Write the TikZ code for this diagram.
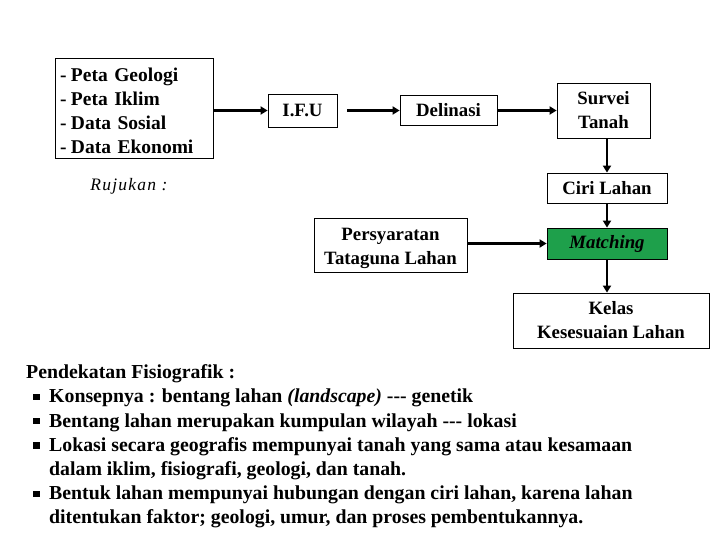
\documentclass[tikz,border=0pt]{standalone}
\usepackage{fontspec}
\setmainfont{Liberation Serif}
\newfontfamily\rujukfont[LetterSpace=7]{Liberation Serif}
\usetikzlibrary{arrows.meta,positioning,shapes}
\definecolor{matchgreen}{RGB}{30,160,75}
\newcommand{\sqbullet}{\raisebox{0.3ex}{\rule{0.32em}{0.32em}}}
\newcommand{\tripdash}{\mbox{-{}-{}-}}
\newcommand{\listdash}{\makebox[11pt][l]{-}}

\begin{document}
\begin{tikzpicture}[x=1pt,y=-1pt,
  box/.style={draw,line width=0.8pt,inner sep=0pt,align=center,
    font=\fontsize{18.8}{24}\selectfont\bfseries},
  arr/.style={-{Triangle[length=7pt,width=8pt]},line width=2.8pt}]
\useasboundingbox (0,0) rectangle (720,540);
\node[box,minimum width=158pt,minimum height=100pt,text width=148pt,
  inner xsep=5pt,align=left,font=\fontsize{19.5}{24}\selectfont\bfseries] (list) at (134,108)
  {\rule{0pt}{19pt}\listdash Peta Geologi\\ \listdash Peta Iklim\\ \listdash Data Sosial\\ \listdash Data Ekonomi};
\node[box,minimum width=69pt,minimum height=33pt] (ifu) at (302.5,110.5) {I.F.U};
\node[box,minimum width=97pt,minimum height=30pt] (delin) at (448.5,110.5) {Delinasi};
\node[box,minimum width=93pt,minimum height=55pt] (survei) at (603.5,110.5) {Survei\\Tanah};
\node[box,minimum width=120pt,minimum height=30pt] (ciri) at (607,188) {Ciri Lahan};
\node[box,minimum width=120pt,minimum height=31pt,fill=matchgreen] (match) at (607,243.5) {\itshape Matching};
\node[box,minimum width=153pt,minimum height=54pt] (syarat) at (390.5,245) {\rule{0pt}{20pt}Persyaratan\\Tataguna Lahan};
\node[box,minimum width=196pt,minimum height=55pt] (kelas) at (611,320.5) {Kelas\\Kesesuaian Lahan};
\node[font=\fontsize{17.5}{20}\rujukfont\itshape] (rujuk) at (129,186) {Rujukan :};
\draw[arr] (list.east |- ifu.west) -- (ifu.west);
\draw[arr,shorten <=10pt] (ifu) -- (delin);
\draw[arr] (delin) -- (survei);
\draw[arr] (survei.south -| ciri.north) -- (ciri.north);
\draw[arr] (ciri) -- (match);
\draw[arr] (syarat.east |- match.west) -- (match.west);
\draw[arr] (match.south) -- (match.south |- kelas.north);
\node[anchor=north west,align=left,inner sep=0pt,
  font=\fontsize{19.8}{24.2}\selectfont\bfseries] (fisio) at (26,364.5)
  {Pendekatan Fisiografik :\\
   \makebox[23pt][l]{\hspace{7pt}\sqbullet}Konsepnya : bentang lahan \textit{(landscape)} \tripdash{} genetik\\
   \makebox[23pt][l]{\hspace{7pt}\sqbullet}Bentang lahan merupakan kumpulan wilayah \tripdash{} lokasi\\
   \makebox[23pt][l]{\hspace{7pt}\sqbullet}Lokasi secara geografis mempunyai tanah yang sama atau kesamaan\\
   \hspace{23pt}dalam iklim, fisiografi, geologi, dan tanah.\\
   \makebox[23pt][l]{\hspace{7pt}\sqbullet}Bentuk lahan mempunyai hubungan dengan ciri lahan, karena lahan\\
   \hspace{23pt}ditentukan faktor; geologi, umur, dan proses pembentukannya.};
\end{tikzpicture}
\end{document}
